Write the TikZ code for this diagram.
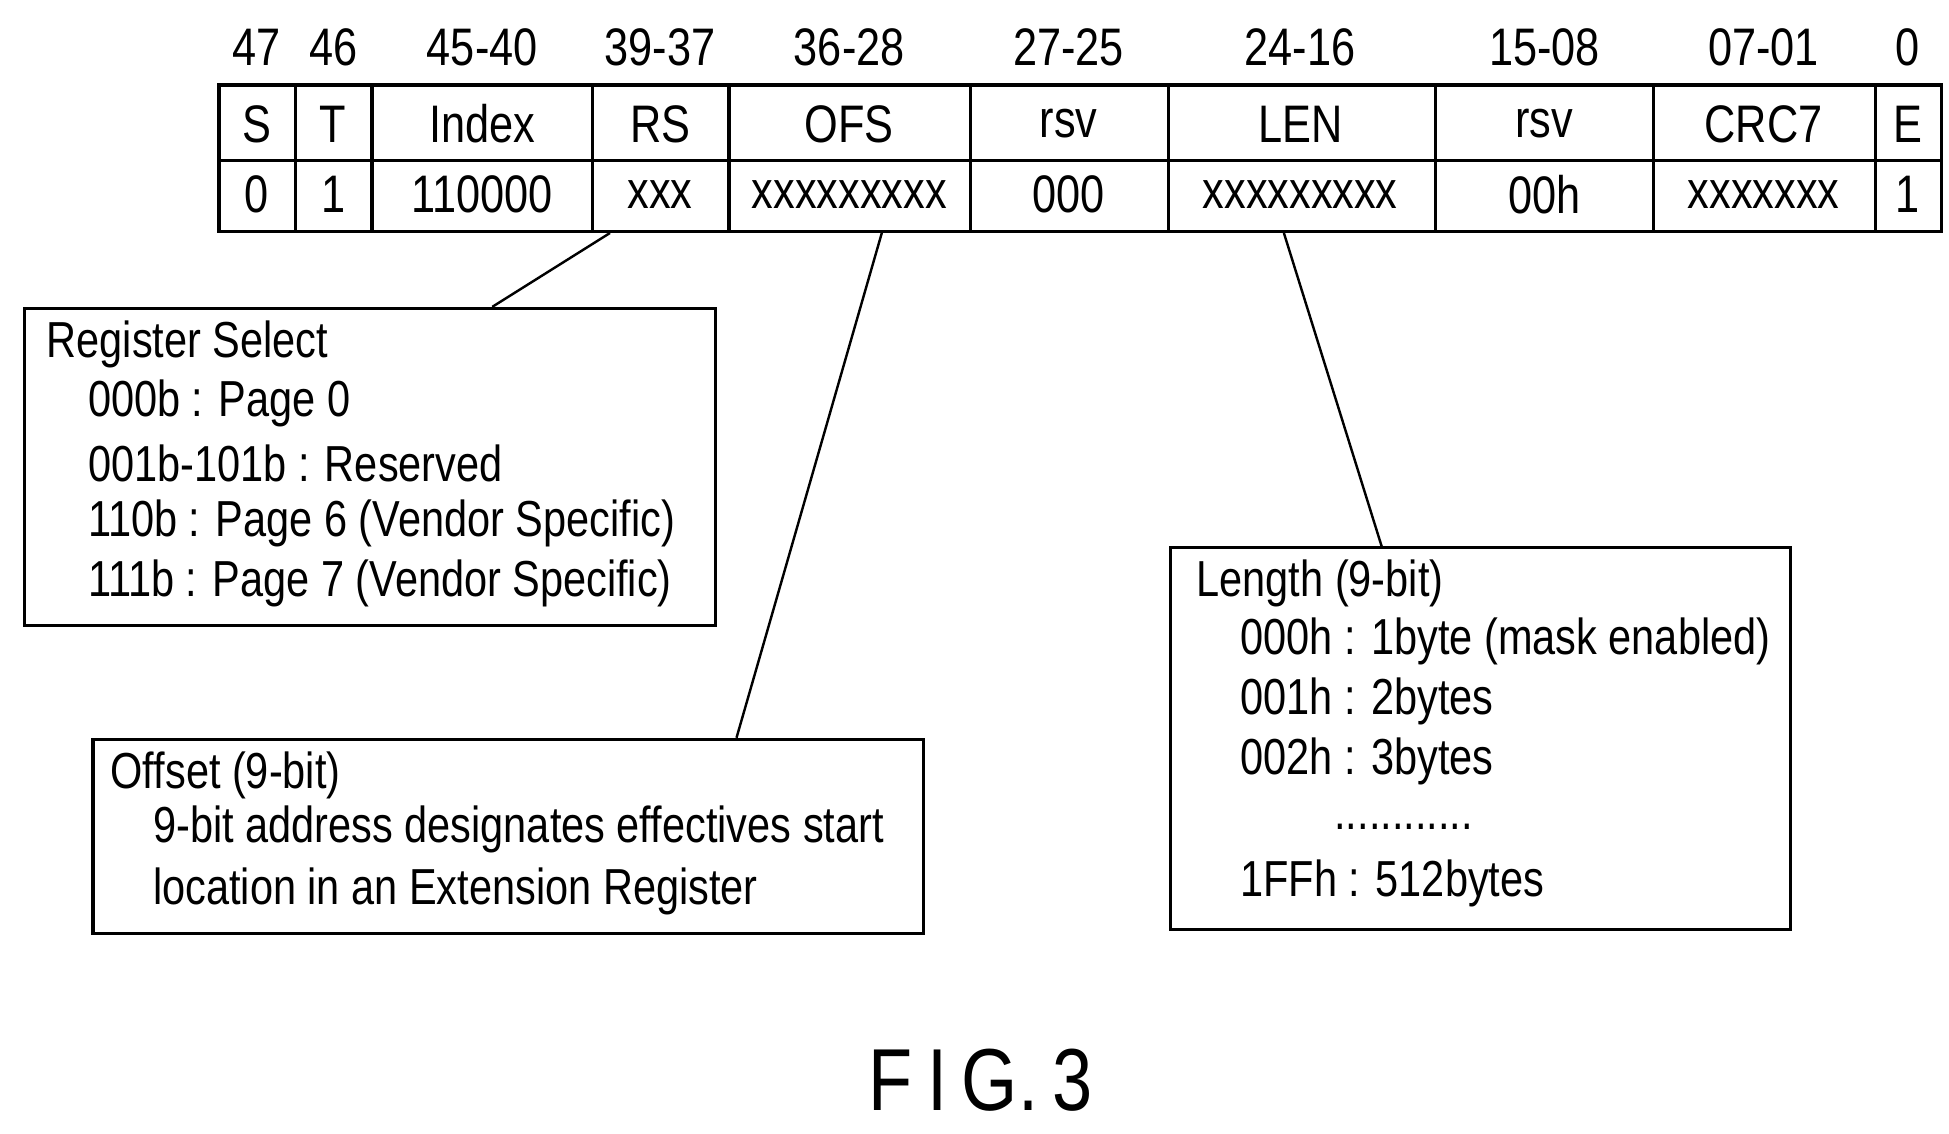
\documentclass[tikz,border=0pt]{standalone}
\usepackage{fontspec}
\setmainfont{Liberation Sans}[FakeStretch=0.82]
\begin{document}
\begin{tikzpicture}[x=0.02cm,y=-0.02cm,
  lbl/.style={inner sep=0pt,font=\fontsize{24}{28}\selectfont},
  txt/.style={inner sep=0pt,anchor=west,font=\fontsize{23}{28}\selectfont},
  box/.style={draw,line width=1.4pt},
  ln/.style={line width=1.1pt}]
\useasboundingbox (0,0) rectangle (1556,905);
% table
\draw[line width=1.6pt] (175,68) rectangle (1550,185);
\draw[line width=1.4pt] (175,128) -- (1550,128);
\foreach \x in {236,297,473,582,775,933,1146,1320,1497} \draw[line width=1.4pt] (\x,68) -- (\x,185);
\foreach \x/\h/\a/\b in {205/47/S/0,266/46/T/1,385/45-40/Index/110000,527/39-37/RS/xxx,678/36-28/OFS/xxxxxxxxx,853/27-25/rsv/000,1038/24-16/LEN/xxxxxxxxx,1233/15-08/rsv/00h,1408/07-01/CRC7/xxxxxxx,1523/0/E/1}{
  \node[lbl] (h\x) at (\x,38) {\h};
  \node[lbl] (a\x) at (\x,99) {\a};
  \node[lbl] (b\x) at (\x,155) {\b};
}
\coordinate (rsb) at (487,186);
\coordinate (ofb) at (704,186);
\coordinate (lnb) at (1025,186);
% boxes
\node[box,minimum width=552*0.02cm,minimum height=253*0.02cm,anchor=north west] (rbox) at (18,245) {};
\node[box,minimum width=663*0.02cm,minimum height=155*0.02cm,anchor=north west] (obox) at (73,589) {};
\node[box,minimum width=495*0.02cm,minimum height=305*0.02cm,anchor=north west] (lbox) at (933,436) {};
\coordinate (rtop) at (393,245);
\coordinate (otop) at (588,589);
\coordinate (ltop) at (1103,436);
\draw[ln] (rsb) -- (rtop);
\draw[ln] (ofb) -- (otop);
\draw[ln] (lnb) -- (ltop);
% register select text
\node[txt] (r0) at (37,275) {Register Select};
\node[txt] (r1) at (70,322) {000b : Page 0};
\node[txt] (r2) at (70,370) {001b-101b : Reserved};
\node[txt] (r3) at (70,418) {110b : Page 6 (Vendor Specific)};
\node[txt] (r4) at (70,466) {111b : Page 7 (Vendor Specific)};
% offset text
\node[txt] (o0) at (88,619) {Offset (9-bit)};
\node[txt] (o1) at (122,662) {9-bit address designates effectives start};
\node[txt] (o2) at (122,712) {location in an Extension Register};
% length text
\node[txt] (l0) at (955,466) {Length (9-bit)};
\node[txt] (l1) at (990,512) {000h : 1byte (mask enabled)};
\node[txt] (l2) at (990,560) {001h : 2bytes};
\node[txt] (l3) at (990,608) {002h : 3bytes};
\node[txt] (l4) at (1065,660) {............};
\node[txt] (l5) at (990,705) {1FFh : 512bytes};
% caption
\node[inner sep=0pt,font=\fontsize{40}{46}\selectfont] (fig) at (783,862) {F\,I\,G.\,3};
\end{tikzpicture}
\end{document}
